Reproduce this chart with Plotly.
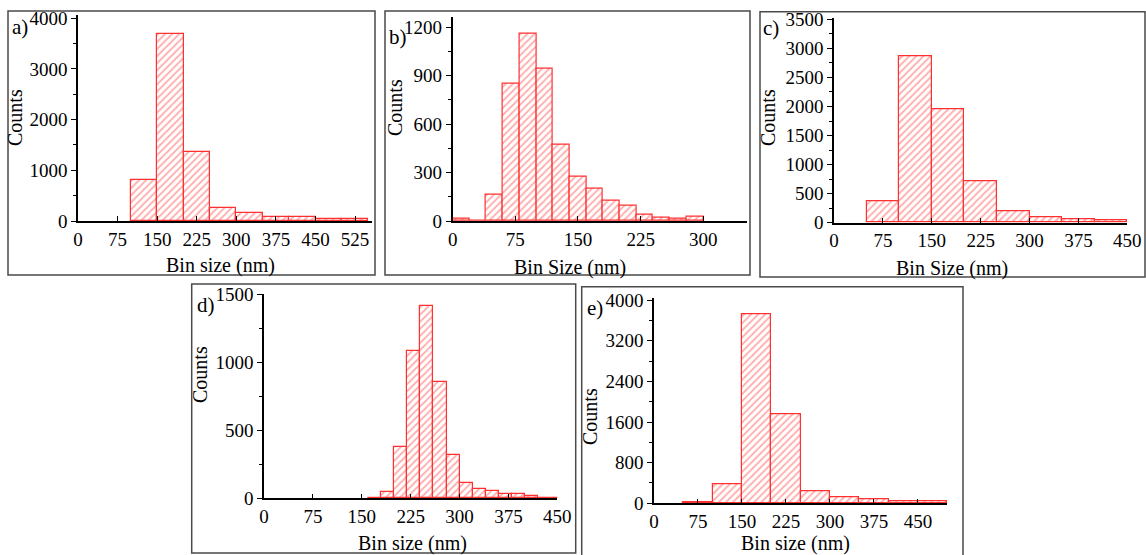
import plotly.graph_objects as go

W, H = 1146, 555

# ---------------- data (bin left edges, bin widths, counts) ----------------
a_left = [100, 150, 200, 250, 300, 350, 400, 450, 500]
a_width = 50
a_counts = [800, 3700, 1360, 260, 165, 80, 78, 40, 40]

b_left = [0, 20, 40, 60, 80, 100, 120, 140, 160, 180, 200, 220, 240, 260, 280]
b_width = 20
b_counts = [12, 4, 165, 848, 1160, 945, 475, 273, 202, 124, 94, 38, 18, 15, 28]

c_left = [50, 100, 150, 200, 250, 300, 350, 400]
c_width = 50
c_counts = [367, 2860, 1945, 708, 198, 95, 63, 40]

d_left = [160, 180, 200, 220, 240, 260, 280, 300, 320, 340, 360, 380, 400, 420, 440]
d_width = 20
d_counts = [5, 47, 376, 1084, 1419, 856, 322, 111, 71, 57, 31, 30, 16, 5, 3]

e_left = [50, 100, 150, 200, 250, 300, 350, 400, 450]
e_width = 50
e_counts = [10, 372, 3712, 1756, 240, 118, 72, 46, 33]

x_ticks_a = [0, 75, 150, 225, 300, 375, 450, 525]
x_ticks_b = [0, 75, 150, 225, 300]
x_ticks_c = [0, 75, 150, 225, 300, 375, 450]
x_ticks_d = [0, 75, 150, 225, 300, 375, 450]
x_ticks_e = [0, 75, 150, 225, 300, 375, 450]

panels = [
    dict(lbl="a)", left=a_left, w=a_width, c=a_counts, xt=x_ticks_a, xr=[0, 557], yr=[0, 4065], dt=1000, mn=500,
         box=(78, 372, 15, 221), frame=(8, 375, 11, 275), xtitle="Bin size (nm)", xtpos=(220, 265),
         ctpos=(15, 118), lpos=(20, 27)),
    dict(lbl="b)", left=b_left, w=b_width, c=b_counts, xt=x_ticks_b, xr=[0, 352], yr=[0, 1265], dt=300, mn=150,
         box=(452.7, 746.7, 16.7, 221), frame=(385, 750, 11, 275), xtitle="Bin Size (nm)", xtpos=(570, 267),
         ctpos=(395, 108), lpos=(398, 37)),
    dict(lbl="c)", left=c_left, w=c_width, c=c_counts, xt=x_ticks_c, xr=[0, 450], yr=[0, 3518], dt=500, mn=250,
         box=(834, 1127.3, 18.3, 222.7), frame=(760, 1145, 11.7, 277), xtitle="Bin Size (nm)", xtpos=(952, 268),
         ctpos=(768, 118), lpos=(771, 28)),
    dict(lbl="d)", left=d_left, w=d_width, c=d_counts, xt=x_ticks_d, xr=[0, 450], yr=[0, 1505], dt=500, mn=250,
         box=(264, 557.3, 294, 498.3), frame=(191.7, 575.7, 284, 553), xtitle="Bin size (nm)", xtpos=(412, 543),
         ctpos=(200, 375), lpos=(206, 305)),
    dict(lbl="e)", left=e_left, w=e_width, c=e_counts, xt=x_ticks_e, xr=[0, 500], yr=[0, 4035], dt=800, mn=400,
         box=(654, 947.3, 298.3, 503.3), frame=(581.7, 963, 286.7, 560), xtitle="Bin size (nm)", xtpos=(795, 543),
         ctpos=(590, 417), lpos=(595, 308)),
]

FONT = "Liberation Serif, Times New Roman, serif"


def px(x):
    return x / W


def py(y):
    return 1 - y / H


fig = go.Figure()
shapes = []
annotations = []
layout = {}

for i, p in enumerate(panels):
    n = i + 1
    xa = "x" if n == 1 else f"x{n}"
    ya = "y" if n == 1 else f"y{n}"
    fig.add_trace(go.Bar(
        x=p["left"], y=p["c"], width=p["w"], offset=0,
        xaxis=xa, yaxis=ya, showlegend=False,
        marker=dict(
            color="white",
            line=dict(color="#ff3030", width=1.2),
            pattern=dict(shape="/", fgcolor="#ff5a5a", bgcolor="white", size=5, solidity=0.35),
        ),
    ))
    x0, x1, yt, yb = p["box"]
    xkey = "xaxis" if n == 1 else f"xaxis{n}"
    ykey = "yaxis" if n == 1 else f"yaxis{n}"
    layout[xkey] = dict(
        domain=[px(x0), px(x1)], range=p["xr"], anchor=ya, automargin=False,
        tickvals=p["xt"], ticks="inside", ticklen=5, tickwidth=1.2, tickcolor="black",
        showline=True, linecolor="black", linewidth=1.6, showgrid=False, zeroline=False,
        tickfont=dict(family=FONT, size=19, color="black"),
    )
    layout[ykey] = dict(
        domain=[py(yb), py(yt)], range=p["yr"], anchor=xa, automargin=False,
        dtick=p["dt"], tick0=0, ticks="outside", ticklen=5, tickwidth=1.2, tickcolor="black",
        minor=dict(dtick=p["mn"], ticks="outside", ticklen=3, tickcolor="black"),
        showline=True, linecolor="black", linewidth=1.6, showgrid=False, zeroline=False,
        tickfont=dict(family=FONT, size=19, color="black"),
    )
    fx0, fx1, fyt, fyb = p["frame"]
    shapes.append(dict(type="rect", xref="paper", yref="paper",
                       x0=px(fx0), x1=px(fx1), y0=py(fyb), y1=py(fyt),
                       line=dict(color="#4a4a4a", width=1.5), fillcolor="rgba(0,0,0,0)", layer="below"))
    annotations.append(dict(text=p["xtitle"], xref="paper", yref="paper",
                            x=px(p["xtpos"][0]), y=py(p["xtpos"][1]), showarrow=False,
                            xanchor="center", yanchor="middle",
                            font=dict(family=FONT, size=20, color="black")))
    annotations.append(dict(text="Counts", xref="paper", yref="paper", textangle=-90,
                            x=px(p["ctpos"][0]), y=py(p["ctpos"][1]), showarrow=False,
                            xanchor="center", yanchor="middle",
                            font=dict(family=FONT, size=20, color="black")))
    annotations.append(dict(text=p["lbl"], xref="paper", yref="paper",
                            x=px(p["lpos"][0]), y=py(p["lpos"][1]), showarrow=False,
                            xanchor="center", yanchor="middle",
                            font=dict(family=FONT, size=21, color="black")))

fig.update_layout(
    width=W, height=H, margin=dict(l=0, r=0, t=0, b=0, autoexpand=False),
    paper_bgcolor="white", plot_bgcolor="white",
    shapes=shapes, annotations=annotations, bargap=0,
    **layout,
)

fig.write_html("out.html", config={"displayModeBar": False},
               post_script="document.body.style.margin='0';")
